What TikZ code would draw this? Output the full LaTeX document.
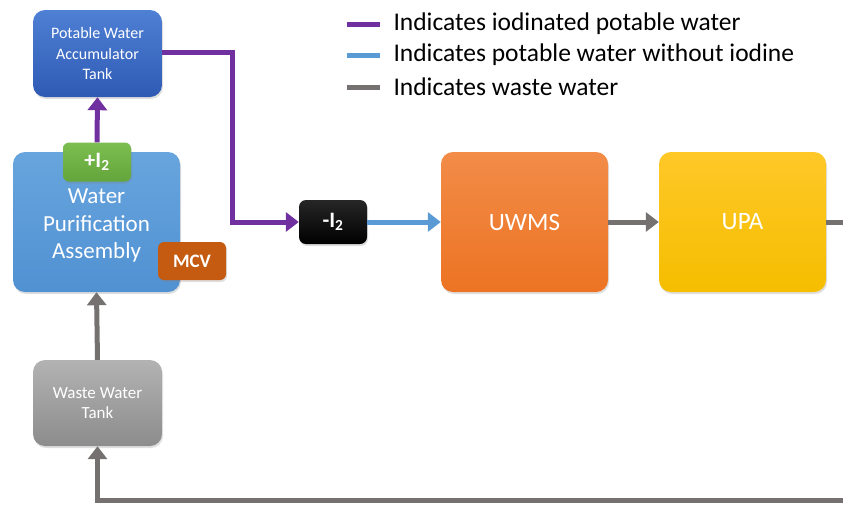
\documentclass[tikz,border=0pt]{standalone}
\usepackage{fontspec}
\setmainfont{Carlito}
\usetikzlibrary{arrows.meta,shadows}
\definecolor{iodpurple}{HTML}{7030A0}
\definecolor{potblue}{HTML}{5B9BD5}
\definecolor{wastegrey}{HTML}{767171}
\begin{document}
\begin{tikzpicture}[x=1pt,y=-1pt]
  \tikzstyle{every node}=[text=white,align=center,inner sep=0pt]
  \tikzstyle{box}=[rectangle,rounded corners=12pt,draw=none,
    drop shadow={opacity=0.25,shadow xshift=1pt,shadow yshift=-2pt}]
  \tikzstyle{tag}=[rectangle,rounded corners=6pt,minimum width=68pt,font=\bfseries]
  \tikzstyle{pipe}=[line width=5pt,-{Triangle[length=13pt,width=19pt]}]
  \tikzstyle{key}=[line width=5pt]
  \useasboundingbox (0,0) rectangle (843,504);
  % units
  \node[box,top color={rgb,255:red,78;green,128;blue,212},bottom color={rgb,255:red,47;green,90;blue,180},
    minimum width=129pt,minimum height=87pt,font=\fontsize{16}{20}\selectfont]
    (pwat) at (97.5,53.5) {Potable Water\\Accumulator\\Tank};
  \node[box,top color={rgb,255:red,104;green,165;blue,222},bottom color={rgb,255:red,80;green,145;blue,210},
    minimum width=167pt,minimum height=140pt,
    label={[name=wpal,yshift=-3.5pt,font=\fontsize{23}{27.5}\selectfont]center:{Water\\Purification\\Assembly}}]
    (wpa) at (96.5,222) {};
  \node[box,top color={rgb,255:red,242;green,140;blue,72},bottom color={rgb,255:red,236;green,115;blue,35},
    minimum width=167pt,minimum height=140pt,font=\fontsize{25}{28}\selectfont]
    (uwms) at (524.5,222) {UWMS};
  \node[box,top color={rgb,255:red,255;green,200;blue,40},bottom color={rgb,255:red,245;green,190;blue,0},
    minimum width=167pt,minimum height=140pt,font=\fontsize{25}{28}\selectfont]
    (upa) at (742.5,222) {UPA};
  \node[box,top color=gray!60,bottom color=gray!90,
    minimum width=129pt,minimum height=86pt,font=\fontsize{17}{20}\selectfont]
    (wwt) at (97.5,403) {Waste Water\\Tank};
  % tags
  \node[tag,box,rounded corners=6pt,top color={rgb,255:red,125;green,190;blue,80},
    bottom color={rgb,255:red,100;green,165;blue,60},minimum height=39pt,font=\bfseries\fontsize{22}{24}\selectfont]
    (addi) at (97,162) {+I\textsubscript{2}};
  \node[tag,box,rounded corners=6pt,fill={rgb,255:red,197;green,90;blue,17},minimum height=38pt,
    font=\bfseries\fontsize{19}{20}\selectfont]
    (mcv) at (192,261) {MCV};
  \node[tag,box,rounded corners=7pt,top color=black!85,bottom color=black,minimum height=44pt,
    font=\bfseries\fontsize{22}{24}\selectfont]
    (remi) at (333,222) {-I\textsubscript{2}};
  % pipes
  \coordinate (upaout) at (843,222);
  \coordinate (loopin) at (843,500);
  \draw[pipe,iodpurple] (addi.north) -- (pwat.south);
  \draw[pipe,iodpurple] (pwat.east |- 0,52) -| (232,222) -- (remi.west);
  \draw[pipe,potblue] (remi.east) -- (uwms.west);
  \draw[pipe,wastegrey] (uwms.east) -- (upa.west);
  \draw[key,wastegrey] (upa.east) -- (upaout);
  \draw[pipe,wastegrey] (loopin) -| (wwt.south);
  \draw[pipe,wastegrey] (wwt.north) -- (wpa.south);
  % legend
  \coordinate (k1) at (347,24);
  \coordinate (k2) at (347,55);
  \coordinate (k3) at (347,87);
  \draw[key,iodpurple] (k1) -- ++(33,0)
    node[right=11pt,text=black,font=\fontsize{25.5}{28}\selectfont] (t1) {Indicates iodinated potable water};
  \draw[key,potblue] (k2) -- ++(33,0)
    node[right=11pt,text=black,font=\fontsize{25.5}{28}\selectfont] (t2) {Indicates potable water without iodine};
  \draw[key,wastegrey] (k3) -- ++(33,0)
    node[right=11pt,text=black,font=\fontsize{25.5}{28}\selectfont] (t3) {Indicates waste water};
\end{tikzpicture}
\end{document}
